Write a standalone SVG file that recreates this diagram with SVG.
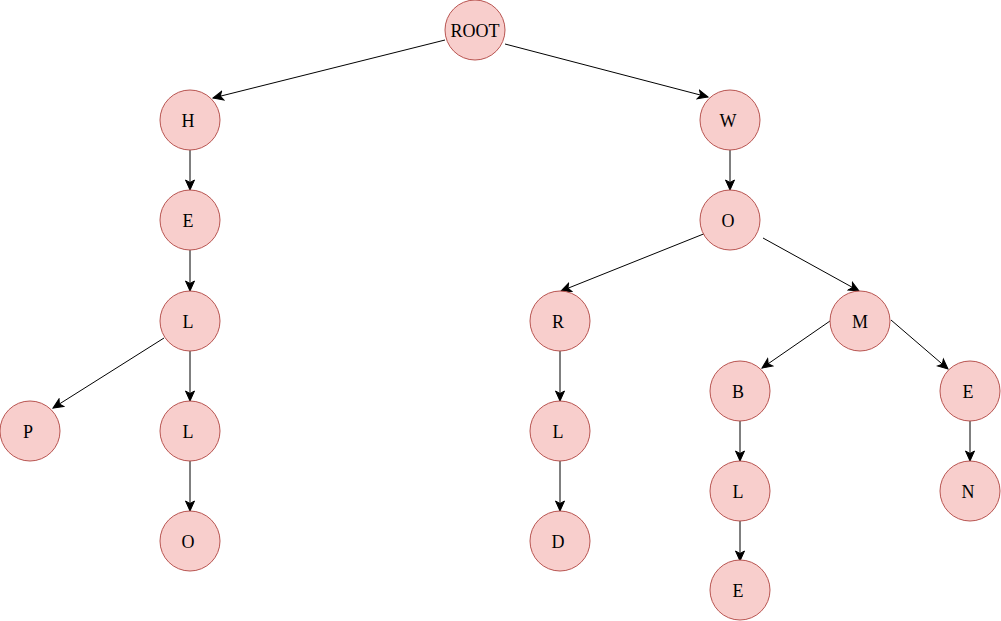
<svg xmlns="http://www.w3.org/2000/svg" width="1001" height="621" viewBox="0 0 1001 621">
<style>
.n circle{fill:#f8cecc;stroke:#b85450;stroke-width:1}
.n text{font-family:"Liberation Serif",serif;font-size:18px;fill:#000;text-anchor:middle;dominant-baseline:central}
.e line{stroke:#000;stroke-width:1;marker-end:url(#arr)}
</style>
<defs>
<marker id="arr" markerUnits="userSpaceOnUse" markerWidth="12" markerHeight="12" viewBox="0 0 12 12" refX="11" refY="6" orient="auto">
<path d="M1,1.5 L11,6 L1,10.5 L3.5,6 Z" fill="#000" stroke="#000" stroke-width="1"/>
</marker>
</defs>
<rect width="1001" height="621" fill="#fff"/>
<g id="edges" class="e">
<line x1="445" y1="40" x2="213" y2="98"/>
<line x1="505" y1="44" x2="708" y2="97"/>
<line x1="190" y1="150" x2="190" y2="190"/>
<line x1="190" y1="250" x2="190" y2="291"/>
<line x1="164" y1="338" x2="53" y2="408"/>
<line x1="190" y1="351" x2="190" y2="401"/>
<line x1="190" y1="461" x2="190" y2="511"/>
<line x1="730" y1="150" x2="730" y2="190"/>
<line x1="706" y1="233" x2="561" y2="291"/>
<line x1="763" y1="238" x2="859" y2="291"/>
<line x1="560" y1="351" x2="560" y2="401"/>
<line x1="560" y1="461" x2="560" y2="511"/>
<line x1="830" y1="321" x2="762" y2="368"/>
<line x1="891" y1="320" x2="948" y2="369"/>
<line x1="740" y1="421" x2="740" y2="461"/>
<line x1="740" y1="521" x2="740" y2="561"/>
<line x1="970" y1="421" x2="970" y2="461"/>
</g>
<g id="root" class="n"><circle cx="475" cy="30" r="30"/><text x="475" y="31">ROOT</text></g>
<g id="h" class="n"><circle cx="190" cy="120" r="30"/><text x="188" y="121">H</text></g>
<g id="w" class="n"><circle cx="730" cy="120" r="30"/><text x="728" y="121">W</text></g>
<g id="e1" class="n"><circle cx="190" cy="220" r="30"/><text x="188" y="221">E</text></g>
<g id="o1" class="n"><circle cx="730" cy="220" r="30"/><text x="728" y="221">O</text></g>
<g id="l1" class="n"><circle cx="190" cy="321" r="30"/><text x="188" y="322">L</text></g>
<g id="r" class="n"><circle cx="560" cy="321" r="30"/><text x="558" y="322">R</text></g>
<g id="m" class="n"><circle cx="860" cy="321" r="30"/><text x="860" y="322">M</text></g>
<g id="p" class="n"><circle cx="30" cy="431" r="30"/><text x="28" y="432">P</text></g>
<g id="l2" class="n"><circle cx="190" cy="431" r="30"/><text x="188" y="432">L</text></g>
<g id="l3" class="n"><circle cx="560" cy="431" r="30"/><text x="558" y="432">L</text></g>
<g id="b" class="n"><circle cx="740" cy="391" r="30"/><text x="738" y="392">B</text></g>
<g id="e2" class="n"><circle cx="970" cy="391" r="30"/><text x="968" y="392">E</text></g>
<g id="o2" class="n"><circle cx="190" cy="541" r="30"/><text x="188" y="542">O</text></g>
<g id="d" class="n"><circle cx="560" cy="541" r="30"/><text x="558" y="542">D</text></g>
<g id="l4" class="n"><circle cx="740" cy="491" r="30"/><text x="738" y="492">L</text></g>
<g id="n" class="n"><circle cx="970" cy="491" r="30"/><text x="968" y="492">N</text></g>
<g id="e3" class="n"><circle cx="740" cy="590" r="30"/><text x="738" y="591">E</text></g>
</svg>
